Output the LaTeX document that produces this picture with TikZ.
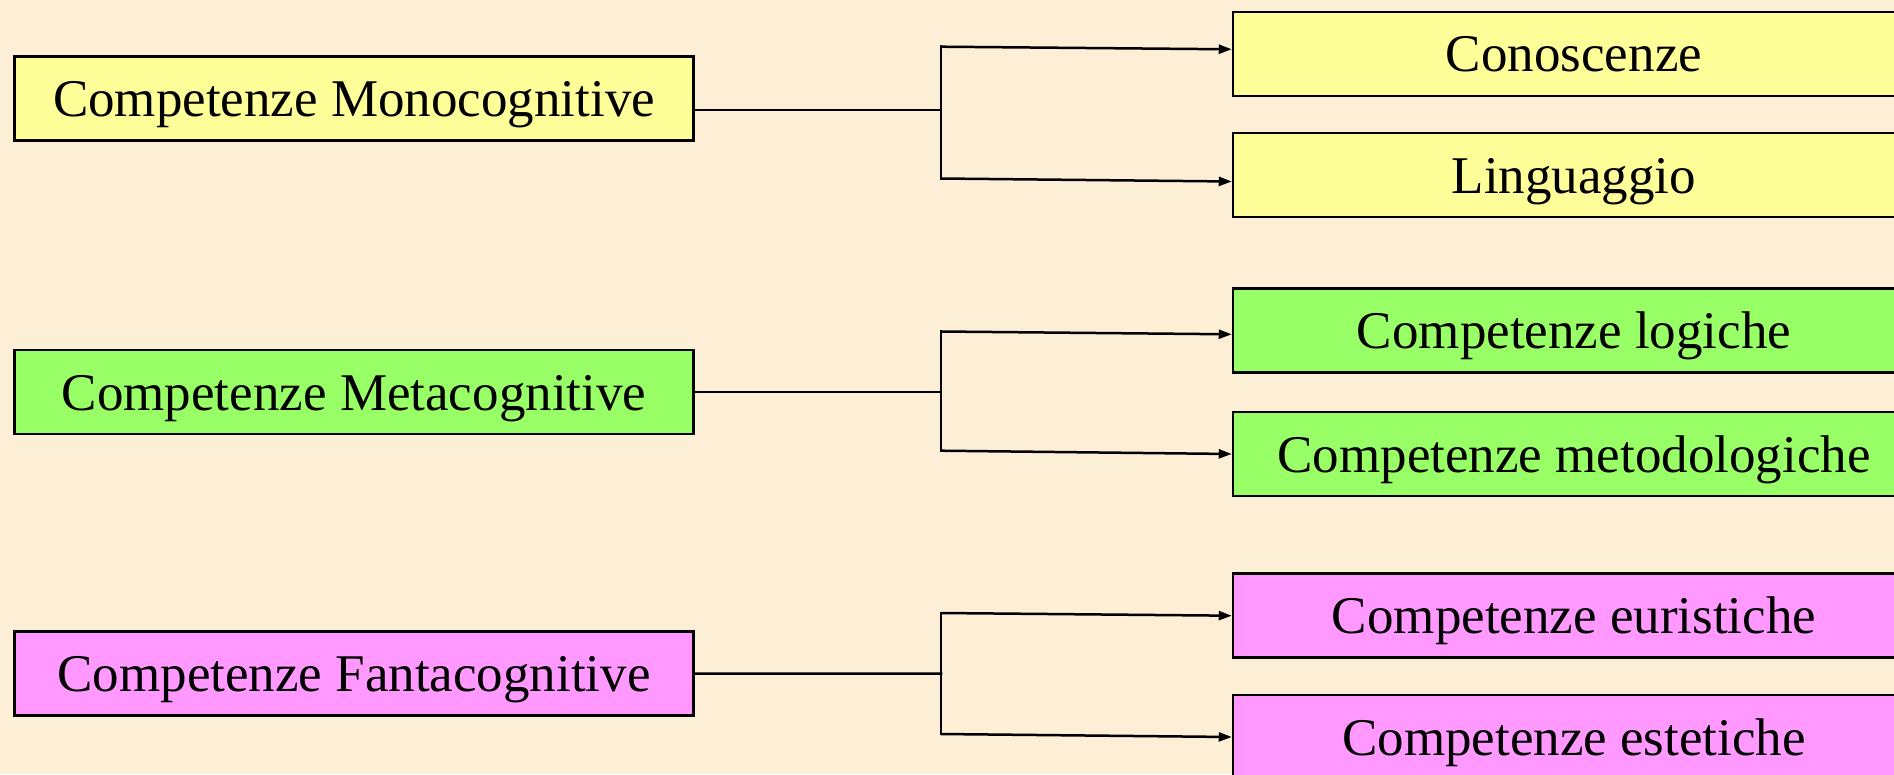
\documentclass[tikz,border=0pt]{standalone}
\usepackage{fontspec}
\setmainfont{Liberation Serif}
\usetikzlibrary{arrows.meta,calc}
\definecolor{bgcol}{HTML}{FCEFD6}
\definecolor{yfill}{HTML}{FFFF99}
\definecolor{gfill}{HTML}{99FF66}
\definecolor{pfill}{HTML}{FF99FF}
\tikzset{
  box/.style={draw=black, line width=2.5pt, minimum height=84pt, inner sep=0pt,
    font=\fontsize{53}{60}\selectfont, text height=38pt, text depth=2pt, anchor=center},
  leftbox/.style={box, minimum width=679pt},
  rightbox/.style={box, minimum width=682pt},
  conn/.style={line width=2.5pt, line cap=rect},
  arr/.style={line width=2.5pt, -{Triangle[length=13pt,width=9pt]}}
}
\begin{document}
\begin{tikzpicture}[x=1pt,y=-1pt]
\useasboundingbox (0,0) rectangle (1894,774);
\clip (0,0) rectangle (1894,774);
\fill[bgcol] (0,0) rectangle (1894,774);
% left nodes
\node[leftbox, fill=yfill] (m1) at (354,98.4) {Competenze Monocognitive};
\node[leftbox, fill=gfill] (m2) at (354,392) {Competenze Metacognitive};
\node[leftbox, fill=pfill] (m3) at (354,673.7) {Competenze Fantacognitive};
% right nodes
\node[rightbox, fill=yfill] (c1) at (1574,53.8) {Conoscenze};
\node[rightbox, fill=yfill] (c2) at (1574,175) {Linguaggio};
\node[rightbox, fill=gfill] (c3) at (1574,330.3) {Competenze logiche};
\node[rightbox, fill=gfill] (c4) at (1574,454) {Competenze metodologiche};
\node[rightbox, fill=pfill] (c5) at (1574,615.7) {Competenze euristiche};
\node[rightbox, fill=pfill] (c6) at (1574,737) {Competenze estetiche};
% junction coordinates
\coordinate (j1) at (941,110);
\coordinate (t1) at (941,46.7);
\coordinate (b1) at (941,178.5);
\coordinate (j2) at (941,392);
\coordinate (t2) at (941,331.5);
\coordinate (b2) at (941,450.7);
\coordinate (j3) at (941,673.5);
\coordinate (t3) at (941,613);
\coordinate (b3) at (941,734);
% connectors group 1
\draw[conn] (m1.east |- j1) -- (j1);
\draw[conn] (t1) -- (b1);
\draw[arr] (t1) -- ($(c1.west)+(0,-4.5)$);
\draw[arr] (b1) -- ($(c2.west)+(0,6.5)$);
% group 2
\draw[conn] (m2.east) -- (j2);
\draw[conn] (t2) -- (b2);
\draw[arr] (t2) -- ($(c3.west)+(0,4)$);
\draw[arr] (b2) -- (c4.west);
% group 3
\draw[conn] (m3.east) -- (j3);
\draw[conn] (t3) -- (b3);
\draw[arr] (t3) -- (c5.west);
\draw[arr] (b3) -- (c6.west);
\end{tikzpicture}
\end{document}
